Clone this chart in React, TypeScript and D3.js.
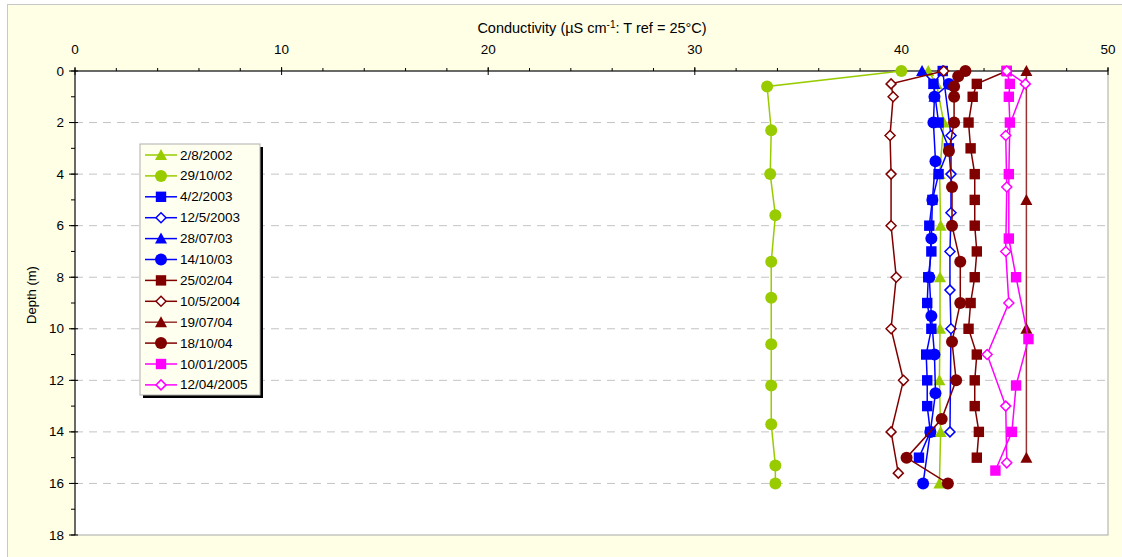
import * as d3 from 'd3';

// conductivity profiles
const seriesNames = [
  '2/8/2002', '29/10/02', '4/2/2003', '12/5/2003', '28/07/03', '14/10/03',
  '25/02/04', '10/5/2004', '19/07/04', '18/10/04', '10/01/2005', '12/04/2005',
];

const depth_020802 = [0, 0.5, 2, 4, 6, 8, 10, 12, 14, 16];
const cond_020802 = [41.3, 41.7, 42.05, 41.85, 41.9, 41.87, 41.87, 41.84, 41.9, 41.84];

const depth_291002 = [0, 0.6, 2.3, 4, 5.6, 7.4, 8.8, 10.6, 12.2, 13.7, 15.3, 16];
const cond_291002 = [40.0, 33.5, 33.7, 33.65, 33.9, 33.7, 33.7, 33.7, 33.7, 33.7, 33.9, 33.9];

const depth_040203 = [0, 0.5, 2, 3, 4, 5, 6, 7, 8, 9, 10, 11, 12, 13, 14, 15];
const cond_040203 = [42.0, 41.55, 41.8, 42.3, 41.8, 41.5, 41.35, 41.45, 41.3, 41.25, 41.45, 41.2, 41.25, 41.25, 41.4, 40.85];

const depth_120503 = [0, 2.5, 4, 5.5, 7, 8.5, 10, 14];
const cond_120503 = [42.0, 42.4, 42.4, 42.4, 42.35, 42.35, 42.4, 42.35];

const depth_280703 = [0, 0.5, 1];
const cond_280703 = [41.0, 41.6, 41.6];

const depth_141003 = [0.5, 1, 2, 3.5, 5, 6.5, 8, 9.5, 11, 12.5, 14, 16];
const cond_141003 = [42.3, 41.6, 41.55, 41.65, 41.5, 41.45, 41.35, 41.45, 41.6, 41.65, 41.4, 41.05];

const depth_250204 = [0, 0.5, 1, 2, 3, 4, 5, 6, 7, 8, 9, 10, 11, 12, 13, 14, 15];
const cond_250204 = [45.1, 43.65, 43.45, 43.25, 43.35, 43.55, 43.55, 43.55, 43.65, 43.55, 43.35, 43.25, 43.65, 43.55, 43.55, 43.75, 43.65];

const depth_100504 = [0, 0.5, 1, 2.5, 4, 6, 8, 10, 12, 14, 15.6];
const cond_100504 = [42.05, 39.5, 39.6, 39.45, 39.5, 39.5, 39.75, 39.5, 40.1, 39.5, 39.85];

const depth_190704 = [0, 5, 10, 15];
const cond_190704 = [46.05, 46.05, 46.05, 46.05];

const depth_181004 = [0, 0.2, 0.6, 1, 2, 3.1, 4.5, 6, 7.4, 9, 10.5, 12, 13.5, 15, 16];
const cond_181004 = [43.1, 42.75, 42.55, 42.55, 42.55, 42.3, 42.45, 42.45, 42.85, 42.85, 42.45, 42.65, 41.95, 40.25, 42.25];

const depth_100105 = [0, 0.5, 1, 2, 4, 6.5, 8, 10.4, 12.2, 14, 15.5];
const cond_100105 = [45.1, 45.25, 45.2, 45.25, 45.2, 45.2, 45.55, 46.15, 45.55, 45.35, 44.55];

const depth_120405 = [0, 0.5, 2.5, 4.5, 7, 9, 11, 13, 15.2];
const cond_120405 = [45.1, 46.0, 45.05, 45.1, 45.05, 45.2, 44.15, 45.05, 45.1];

const xTicks = [0, 10, 20, 30, 40, 50];
const yTicks = [0, 2, 4, 6, 8, 10, 12, 14, 16, 18];

type Shape = 'triangle' | 'circle' | 'square' | 'diamond';

const GREEN = '#99CC00';
const BLUE = '#0000FF';
const DRED = '#800000';
const MAGENTA = '#FF00FF';

const series: { name: string; depth: number[]; cond: number[]; color: string; line?: string; shape: Shape }[] = [
  { name: seriesNames[0], depth: depth_020802, cond: cond_020802, color: GREEN, shape: 'triangle' },
  { name: seriesNames[1], depth: depth_291002, cond: cond_291002, color: GREEN, shape: 'circle' },
  { name: seriesNames[2], depth: depth_040203, cond: cond_040203, color: BLUE, shape: 'square' },
  { name: seriesNames[3], depth: depth_120503, cond: cond_120503, color: BLUE, shape: 'diamond' },
  { name: seriesNames[4], depth: depth_280703, cond: cond_280703, color: BLUE, shape: 'triangle' },
  { name: seriesNames[5], depth: depth_141003, cond: cond_141003, color: BLUE, shape: 'circle' },
  { name: seriesNames[6], depth: depth_250204, cond: cond_250204, color: DRED, shape: 'square' },
  { name: seriesNames[7], depth: depth_100504, cond: cond_100504, color: DRED, shape: 'diamond' },
  { name: seriesNames[8], depth: depth_190704, cond: cond_190704, color: DRED, line: '#993333', shape: 'triangle' },
  { name: seriesNames[9], depth: depth_181004, cond: cond_181004, color: DRED, shape: 'circle' },
  { name: seriesNames[10], depth: depth_100105, cond: cond_100105, color: MAGENTA, shape: 'square' },
  { name: seriesNames[11], depth: depth_120405, cond: cond_120405, color: MAGENTA, shape: 'diamond' },
];

const FONT = '"Liberation Sans", Arial, sans-serif';

function Marker({ shape, x, y, color }: { shape: Shape; x: number; y: number; color: string }) {
  if (shape === 'circle') return <circle cx={x} cy={y} r={6} fill={color} />;
  if (shape === 'square') return <rect x={x - 5.2} y={y - 5.2} width={10.4} height={10.4} fill={color} />;
  if (shape === 'triangle')
    return <path d={`M${x},${y - 6}L${x + 6},${y + 5}L${x - 6},${y + 5}Z`} fill={color} />;
  return (
    <path
      d={`M${x},${y - 5}L${x + 5},${y}L${x},${y + 5}L${x - 5},${y}Z`}
      fill="#fff"
      stroke={color}
      strokeWidth={1.5}
    />
  );
}

export default function App() {
  const width = 1122;
  const height = 557;
  const x = d3.scaleLinear().domain([0, 50]).range([75, 1108]);
  const y = d3.scaleLinear().domain([0, 18]).range([71, 535]);
  const [x0, x1] = x.range();
  const [y0, y1] = y.range();

  const line = d3
    .line<[number, number]>()
    .x((d) => x(d[1]))
    .y((d) => y(d[0]));

  const xMinor = d3.range(0, 50.01, 2);
  const yMinor = d3.range(0, 18.01, 1);

  // legend
  const lgX = 140;
  const lgY = 144;
  const lgW = 120;
  const lgH = 251;
  const rowH = 20.9;

  return (
    <svg
      width={width}
      height={height}
      style={{ position: 'absolute', left: 0, top: 0 }}
      fontFamily={FONT}
    >
      <rect x={0} y={0} width={width} height={height} fill="#fff" />
      <rect x={7.5} y={4.5} width={width} height={height} fill="#FFFFE6" stroke="#C8C8C8" />

      {/* plot area */}
      <rect x={x0} y={y0} width={x1 - x0} height={y1 - y0} fill="#fff" stroke="#A8A8A8" />

      {/* grid */}
      {yTicks
        .filter((t) => t > 0 && t < 18)
        .map((t) => (
          <line
            key={'g' + t}
            x1={x0}
            x2={x1}
            y1={y(t)}
            y2={y(t)}
            stroke="#C4C4C4"
            strokeWidth={1}
            strokeDasharray="8,6"
          />
        ))}

      {/* top axis */}
      <line x1={x0} x2={x1} y1={y0} y2={y0} stroke="#000" />
      {xMinor.map((t) => (
        <line key={'xm' + t} x1={x(t)} x2={x(t)} y1={y0 - 3} y2={y0} stroke="#000" />
      ))}
      {xTicks.map((t) => (
        <g key={'xt' + t}>
          <line x1={x(t)} x2={x(t)} y1={y0 - 4} y2={y0 + 4} stroke="#000" />
          <text x={x(t)} y={54} textAnchor="middle" fontSize={13.5} fill="#000">
            {t}
          </text>
        </g>
      ))}

      {/* left axis */}
      <line x1={x0} x2={x0} y1={y0} y2={y1} stroke="#000" />
      {yMinor.map((t) => (
        <line key={'ym' + t} x1={x0 - 4} x2={x0} y1={y(t)} y2={y(t)} stroke="#000" />
      ))}
      {yTicks.map((t) => (
        <g key={'yt' + t}>
          <line x1={x0 - 6} x2={x0 + 3} y1={y(t)} y2={y(t)} stroke="#000" />
          <text x={64} y={y(t) + 4.5} textAnchor="end" fontSize={13.5} fill="#000">
            {t}
          </text>
        </g>
      ))}

      {/* titles */}
      <text x={592} y={33} textAnchor="middle" fontSize={14.5} fill="#000">
        Conductivity (µS cm
        <tspan dy={-5} fontSize={10}>
          -1
        </tspan>
        <tspan dy={5}>: T ref = 25°C)</tspan>
      </text>
      <text
        transform={`translate(36,${295}) rotate(-90)`}
        textAnchor="middle"
        fontSize={13}
        fill="#000"
      >
        Depth (m)
      </text>

      {/* series */}
      {series.map((s) => {
        const pts = s.depth.map((d, i) => [d, s.cond[i]] as [number, number]);
        return (
          <g key={s.name}>
            <path d={line(pts) || ''} fill="none" stroke={s.line || s.color} strokeWidth={1.5} />
            {pts.map((p, i) => (
              <Marker key={i} shape={s.shape} x={x(p[1])} y={y(p[0])} color={s.color} />
            ))}
          </g>
        );
      })}

      {/* legend */}
      <rect x={lgX + 3} y={lgY + 3} width={lgW} height={lgH} fill="#000" />
      <rect x={lgX} y={lgY} width={lgW} height={lgH} fill="#FFFFF0" stroke="#B0B0B0" />
      {series.map((s, i) => {
        const cy = lgY + 11 + i * rowH;
        return (
          <g key={'lg' + s.name}>
            <line x1={lgX + 5} x2={lgX + 37} y1={cy} y2={cy} stroke={s.line || s.color} strokeWidth={1.5} />
            <Marker shape={s.shape} x={lgX + 21} y={cy} color={s.color} />
            <text x={lgX + 40} y={cy + 4.5} fontSize={13.5} fill="#000">
              {s.name}
            </text>
          </g>
        );
      })}
    </svg>
  );
}
